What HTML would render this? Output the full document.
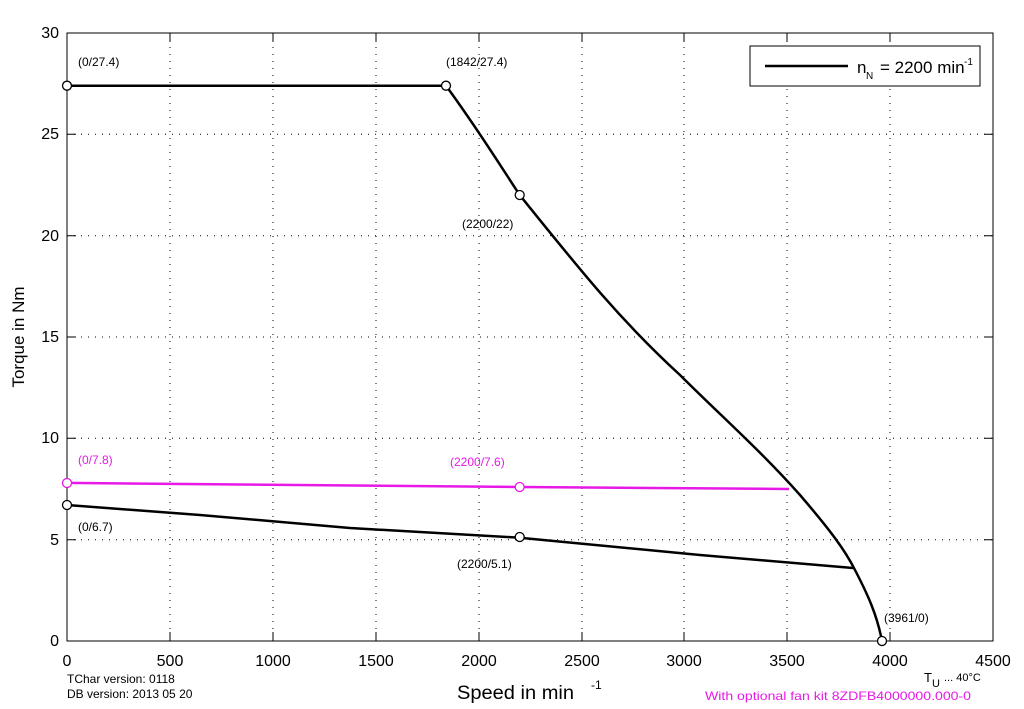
<!DOCTYPE html>
<html><head><meta charset="utf-8"><style>
body{margin:0;background:#fff;}
svg{display:block;font-family:"Liberation Sans",sans-serif;}
</style></head><body>
<svg width="1024" height="709" viewBox="0 0 1024 709">
<rect width="1024" height="709" fill="#fff"/>
<g stroke="#000" stroke-width="1" stroke-dasharray="1,6">
<line x1="170" y1="33" x2="170" y2="641"/><line x1="273" y1="33" x2="273" y2="641"/>
<line x1="376" y1="33" x2="376" y2="641"/><line x1="479" y1="33" x2="479" y2="641"/>
<line x1="582" y1="33" x2="582" y2="641"/><line x1="684" y1="33" x2="684" y2="641"/>
<line x1="787" y1="33" x2="787" y2="641"/><line x1="890" y1="33" x2="890" y2="641"/>
<line x1="67" y1="539.7" x2="993" y2="539.7"/><line x1="67" y1="438.3" x2="993" y2="438.3"/>
<line x1="67" y1="337" x2="993" y2="337"/><line x1="67" y1="235.7" x2="993" y2="235.7"/>
<line x1="67" y1="134.3" x2="993" y2="134.3"/>
</g>
<g stroke="#000" stroke-width="1">
<path d="M170,641v-9M273,641v-9M376,641v-9M479,641v-9M582,641v-9M684,641v-9M787,641v-9M890,641v-9
M170,33v9M273,33v9M376,33v9M479,33v9M582,33v9M684,33v9M787,33v9M890,33v9
M67,539.7h9M67,438.3h9M67,337h9M67,235.7h9M67,134.3h9
M993,539.7h-9M993,438.3h-9M993,337h-9M993,235.7h-9M993,134.3h-9"/>
<rect x="67" y="33" width="926" height="608" fill="none"/>
</g>
<g font-size="16" text-anchor="middle">
<text x="67" y="666">0</text><text x="170" y="666">500</text><text x="273" y="666">1000</text>
<text x="376" y="666">1500</text><text x="479" y="666">2000</text><text x="582" y="666">2500</text>
<text x="684" y="666">3000</text><text x="787" y="666">3500</text><text x="890" y="666">4000</text>
<text x="993" y="666">4500</text>
</g>
<g font-size="16" text-anchor="end">
<text x="59" y="646">0</text><text x="59" y="545">5</text><text x="59" y="443">10</text>
<text x="59" y="342">15</text><text x="59" y="241">20</text><text x="59" y="139">25</text>
<text x="59" y="38">30</text>
</g>
<text x="24" y="337" font-size="17" text-anchor="middle" transform="rotate(-90 24 337)">Torque in Nm</text>
<text x="457" y="699" font-size="19" textLength="117" lengthAdjust="spacingAndGlyphs">Speed in min</text><text x="591" y="689" font-size="12">-1</text>
<text x="67" y="683" font-size="12">TChar version: 0118</text>
<text x="67" y="698" font-size="12">DB version: 2013 05 20</text>
<text x="924" y="682" font-size="13">T</text><text x="932" y="687" font-size="11">U</text>
<text x="944" y="681" font-size="11">... 40°C</text>
<text x="705" y="700" font-size="12" fill="#e619e6" textLength="266" lengthAdjust="spacingAndGlyphs">With optional fan kit 8ZDFB4000000.000-0</text>
<rect x="750" y="46" width="230" height="40" fill="#fff" stroke="#000"/>
<line x1="765" y1="66" x2="848" y2="66" stroke="#000" stroke-width="2.5"/>
<text x="857" y="73" font-size="17">n</text><text x="866" y="79" font-size="10">N</text>
<text x="880" y="73" font-size="17">= 2200 min</text><text x="964" y="65" font-size="10">-1</text>
<g fill="none" stroke-width="2.5" stroke-linejoin="round">
<path stroke="#000" d="M67,85.7L446,85.7C475,125 500,165 519.7,195C580,270 620,320 680,375C720,415 760,450 800,495C830,530 845,550 855,570C868,595 877,615 882,641"/>
<path stroke="#000" d="M67,505L200,515L350,528L519.7,537.7L700,555L853,568"/>
<path stroke="#e619e6" d="M67,482.9L519.7,487L789,489"/>
</g>
<g stroke-width="1.3" fill="#fff">
<circle cx="67" cy="85.7" r="4.5" stroke="#000"/><circle cx="446" cy="85.7" r="4.5" stroke="#000"/>
<circle cx="519.7" cy="195" r="4.5" stroke="#000"/><circle cx="882" cy="641" r="4.5" stroke="#000"/>
<circle cx="67" cy="505" r="4.5" stroke="#000"/><circle cx="519.7" cy="537" r="4.5" stroke="#000"/>
<circle cx="67" cy="483" r="4.5" stroke="#e619e6"/><circle cx="519.7" cy="487" r="4.5" stroke="#e619e6"/>
</g>
<g font-size="12">
<text x="78" y="66">(0/27.4)</text><text x="446" y="66">(1842/27.4)</text>
<text x="462" y="228">(2200/22)</text><text x="884" y="622">(3961/0)</text>
<text x="78" y="531">(0/6.7)</text><text x="457" y="568">(2200/5.1)</text>
<text x="78" y="464" fill="#e619e6">(0/7.8)</text><text x="450" y="466" fill="#e619e6">(2200/7.6)</text>
</g>
</svg>
</body></html>
